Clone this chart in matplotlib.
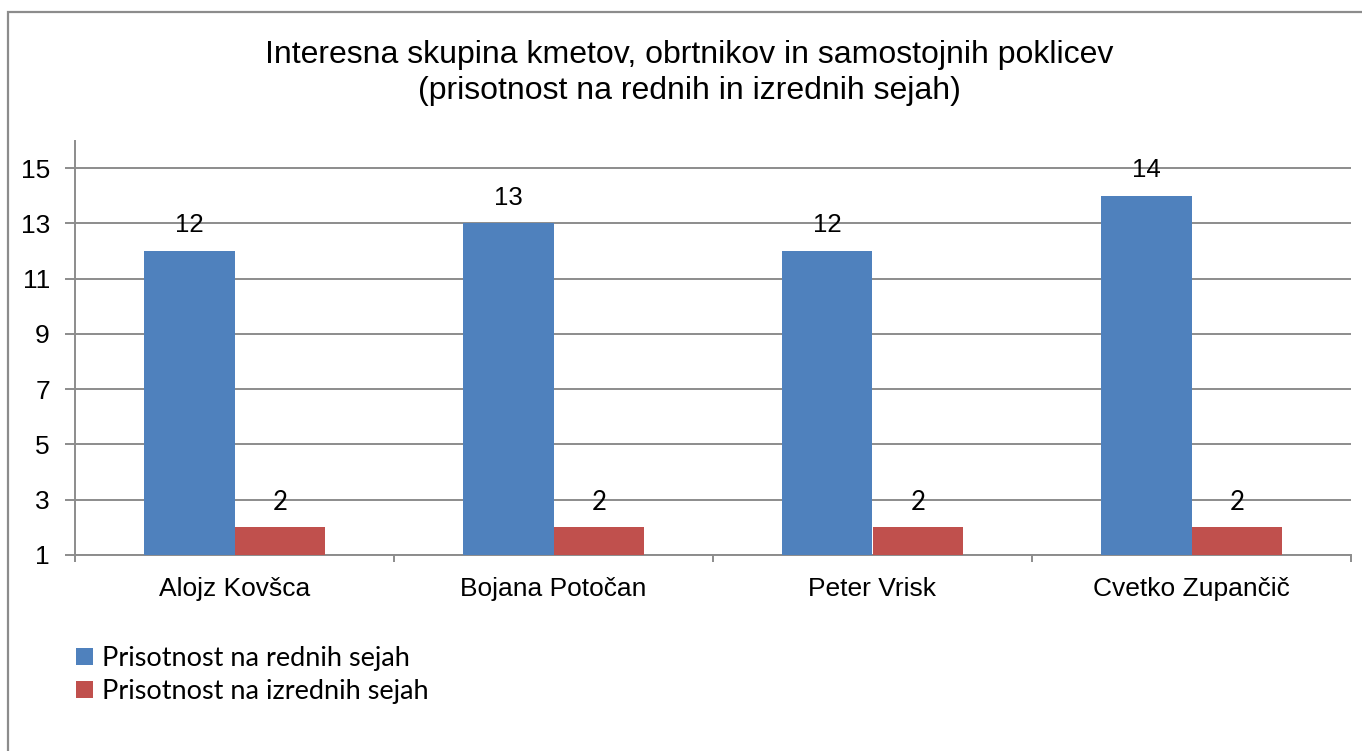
import matplotlib
matplotlib.use("Agg")
import matplotlib.pyplot as plt
from matplotlib.patches import Rectangle, Patch
import numpy as np

categories = ["Alojz Kovšca", "Bojana Potočan", "Peter Vrisk", "Cvetko Zupančič"]
redne = [12, 13, 12, 14]
izredne = [2, 2, 2, 2]
series_names = ["Prisotnost na rednih sejah", "Prisotnost na izrednih sejah"]
yticks = [1, 3, 5, 7, 9, 11, 13, 15]
title = "Interesna skupina kmetov, obrtnikov in samostojnih poklicev\n(prisotnost na rednih in izrednih sejah)"

BLUE = "#4F81BD"
RED = "#C0504D"
GRID = "#8C8C8C"

W, H = 1362, 751
fig = plt.figure(figsize=(W / 100, H / 100), dpi=100)
fig.patch.set_facecolor("white")

# chart border
fig.patches.append(Rectangle((8 / W, -0.1), 1.2, 1 - 12 / H + 0.1, transform=fig.transFigure,
                             fill=False, edgecolor="#8C8C8C", linewidth=1.6))

ax = fig.add_axes([75 / W, 1 - 555 / H, (1351 - 75) / W, (555 - 140.5) / H])

x = np.arange(len(categories))
w = 0.285
base = 1
ax.bar(x - w / 2, np.array(redne) - base, w, bottom=base, color=BLUE, zorder=3)
ax.bar(x + w / 2, np.array(izredne) - base, w, bottom=base, color=RED, zorder=3)

for xi, v in zip(x, redne):
    ax.text(xi - w / 2, v + 0.5, str(v), ha="center", va="bottom", fontsize=18.5,
            family="Liberation Sans", zorder=4)
for xi, v in zip(x, izredne):
    ax.text(xi + w / 2, v + 0.45, str(v), ha="center", va="bottom", fontsize=18.5,
            family="Lato", zorder=4)

ax.set_xlim(-0.5, len(categories) - 0.5)
ax.set_ylim(1, 16)
ax.set_yticks(yticks)
ax.set_yticklabels([str(t) for t in yticks], fontsize=19, family="Liberation Sans")
ax.yaxis.grid(True, color=GRID, linewidth=1.4, zorder=0)
ax.set_axisbelow(True)

ax.set_xticks(x)
ax.set_xticklabels(categories, fontsize=19, family="Liberation Sans")
ax.set_xticks(np.arange(len(categories) + 1) - 0.5, minor=True)
ax.tick_params(axis="x", which="major", length=0, pad=16)
ax.tick_params(axis="x", which="minor", length=5, direction="out", color=GRID, width=1.4)
ax.tick_params(axis="y", length=7, direction="out", color=GRID, width=1.4, pad=11)

for s in ["top", "right"]:
    ax.spines[s].set_visible(False)
for s in ["left", "bottom"]:
    ax.spines[s].set_color(GRID)
    ax.spines[s].set_linewidth(1.4)

fig.text(689 / W, 1 - 73 / H, title, ha="center", va="center", fontsize=23,
         family="Liberation Sans", linespacing=1.3)

handles = [Patch(facecolor=BLUE, edgecolor="none"), Patch(facecolor=RED, edgecolor="none")]
fig.legend(handles, series_names, loc="upper left", bbox_to_anchor=(76 / W, 1 - 646 / H),
           frameon=False, prop={"family": "Lato", "size": 19.5},
           handlelength=0.62, handleheight=0.62, handletextpad=0.35, labelspacing=0.3,
           borderaxespad=0, borderpad=0)

fig.savefig("out.png", dpi=100)
